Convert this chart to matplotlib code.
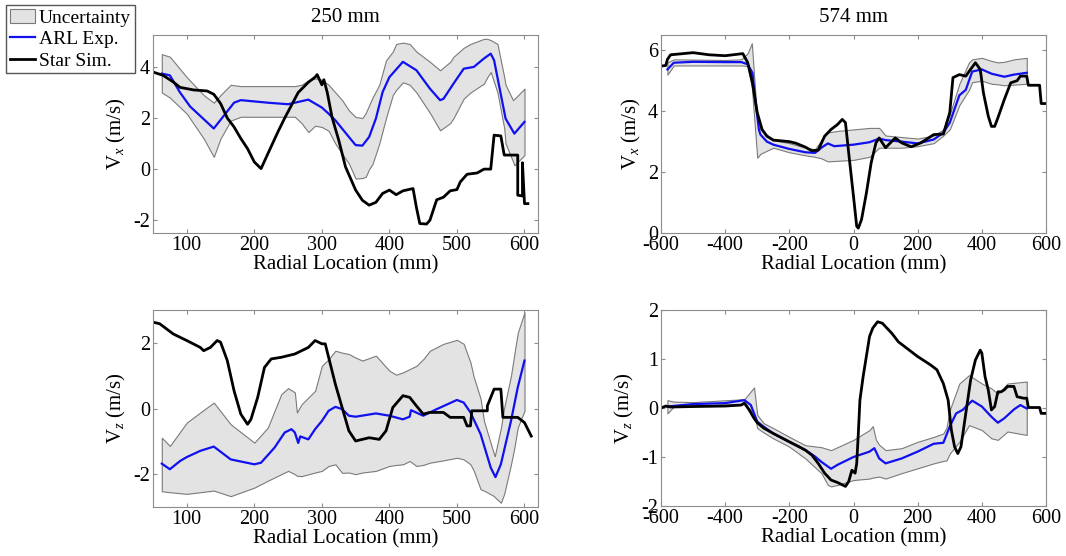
import numpy as np
import matplotlib
matplotlib.use("Agg")
import matplotlib.pyplot as plt
from matplotlib.patches import Patch
from matplotlib.lines import Line2D

plt.rcParams['font.family'] = ['Liberation Serif', 'DejaVu Serif']
plt.rcParams['mathtext.fontset'] = 'custom'
plt.rcParams['mathtext.rm'] = 'Liberation Serif'
plt.rcParams['mathtext.it'] = 'Liberation Serif:italic'
plt.rcParams['axes.unicode_minus'] = False
plt.rcParams['font.size'] = 14

# ---- 250 mm, Vx ----
vx250_exp_x = [63, 75, 90, 105, 140, 170, 180, 220, 250, 260, 280, 300, 310, 320, 340, 350, 360, 370, 380, 390, 400,
               420, 440, 460, 475, 480, 495, 510, 525, 540, 550, 555, 572, 585, 600]
vx250_exp_y = [3.74, 3.67, 3.0, 2.45, 1.59, 2.6, 2.7, 2.6, 2.54, 2.6, 2.72, 2.41, 2.17, 1.91, 1.26, 0.94, 0.92, 1.26,
               1.98, 3.02, 3.6, 4.2, 3.87, 3.15, 2.7, 2.75, 3.35, 3.93, 4.0, 4.33, 4.52, 4.26, 1.98, 1.39, 1.85]
vx250_band_x = [63, 75, 100, 125, 140, 150, 165, 180, 260, 270, 280, 290, 300, 310, 320, 330, 340, 350, 360, 365, 370,
                375, 385, 395, 405, 410, 420, 430, 440, 450, 460, 475, 490, 495, 510, 520, 540, 545, 550, 560, 570,
                572, 583, 585, 600]
vx250_band_lo = [3.0, 2.8, 2.17, 1.2, 0.48, 1.2, 1.9, 2.05, 2.05, 1.8, 1.45, 1.7, 1.65, 1.5, 1.0, 0.6, 0.22, -0.37,
                 -0.35, -0.3, 0.0, 0.2, 1.0, 2.0, 2.9, 3.1, 3.4, 3.3, 3.0, 2.6, 2.2, 1.52, 1.8, 2.0, 2.76, 3.0, 3.35,
                 3.6, 3.8, 3.0, 1.6, 1.0, 0.3, 0.15, 0.55]
vx250_band_hi = [4.5, 4.4, 3.6, 2.9, 2.6, 2.9, 3.3, 3.25, 3.25, 3.3, 3.48, 3.55, 3.5, 3.3, 3.0, 2.7, 2.3, 2.04, 2.0,
                 2.2, 2.5, 2.8, 3.3, 4.26, 4.6, 4.9, 4.95, 4.9, 4.6, 4.4, 4.2, 3.87, 4.2, 4.4, 4.75, 4.9, 5.1, 5.1,
                 5.05, 4.9, 3.6, 3.3, 2.7, 2.75, 3.15]
vx250_sim_x = [50, 65, 80, 90, 100, 110, 130, 140, 150, 160, 170, 180, 190, 200, 210, 220, 235, 245, 255, 265, 280,
               290, 293, 300, 303, 308, 315, 325, 335, 350, 360, 370, 380, 390, 400, 410, 420, 435, 440, 445, 455,
               460, 465, 470, 480, 490, 500, 505, 515, 530, 540, 550, 555, 565, 570, 590, 590, 597, 597, 600, 605]
vx250_sim_y = [3.8, 3.67, 3.41, 3.2, 3.15, 3.1, 3.06, 2.93, 2.57, 2.0, 1.65, 1.2, 0.8, 0.28, 0.02, 0.6, 1.46, 2.0,
               2.5, 3.0, 3.4, 3.6, 3.7, 3.3, 3.5, 3.0, 2.04, 1.13, 0.09, -0.82, -1.22, -1.41, -1.3, -0.95, -0.82,
               -1.0, -0.85, -0.76, -1.5, -2.13, -2.15, -2.0, -1.6, -1.2, -1.1, -0.85, -0.8, -0.5, -0.2, -0.15, 0.0,
               0.0, 1.33, 1.3, 0.55, 0.55, -1.02, -1.05, 0.25, -1.35, -1.35]

# ---- 574 mm, Vx ----
vx574_exp_x = [-580, -560, -500, -400, -350, -330, -315, -305, -295, -290, -270, -250, -200, -150, -120, -100, -80,
               -60, 0, 50, 80, 100, 150, 200, 250, 280, 300, 330, 350, 370, 400, 430, 470, 500, 540]
vx574_exp_y = [5.37, 5.59, 5.62, 5.61, 5.61, 5.54, 5.26, 4.28, 3.4, 3.23, 3.0, 2.9, 2.76, 2.65, 2.63, 2.8, 2.94,
               2.85, 2.9, 2.98, 3.1, 3.05, 3.0, 2.94, 3.07, 3.29, 3.62, 4.52, 4.7, 5.3, 5.37, 5.23, 5.13, 5.2, 5.26]
vx574_band_x = [-580, -560, -400, -350, -330, -317, -300, -290, -250, -200, -150, -120, -100, -80, -50, 0, 50, 80,
                100, 150, 200, 250, 280, 300, 330, 360, 370, 400, 430, 450, 470, 500, 540]
vx574_band_lo = [5.2, 5.5, 5.5, 5.5, 5.48, 4.8, 2.47, 2.6, 2.8, 2.65, 2.55, 2.5, 2.45, 2.35, 2.37, 2.4, 2.5, 2.8,
                 2.8, 2.8, 2.85, 2.95, 3.2, 3.4, 4.2, 4.7, 4.95, 5.0, 4.9, 4.88, 4.85, 4.87, 4.9]
vx574_band_hi = [5.6, 5.7, 5.68, 5.7, 5.9, 6.23, 3.7, 3.4, 3.05, 2.95, 2.8, 2.75, 3.05, 3.3, 3.35, 3.4, 3.45, 3.45,
                 3.2, 3.15, 3.1, 3.2, 3.4, 3.9, 4.9, 5.6, 5.7, 5.75, 5.65, 5.6, 5.62, 5.7, 5.75]
vx574_sim_x = [-600, -585, -580, -570, -500, -450, -400, -360, -345, -330, -315, -300, -285, -270, -250, -200, -180,
               -150, -130, -110, -90, -70, -50, -35, -25, -15, 0, 10, 15, 25, 40, 55, 70, 80, 100, 115, 130, 150,
               180, 210, 250, 280, 300, 310, 330, 350, 360, 380, 395, 405, 420, 430, 440, 450, 470, 490, 510, 520,
               540, 545, 580, 585, 600]
vx574_sim_y = [5.48, 5.5, 5.7, 5.85, 5.92, 5.85, 5.82, 5.87, 5.89, 5.6, 4.93, 3.95, 3.4, 3.18, 3.05, 3.0, 2.95,
               2.82, 2.7, 2.72, 3.18, 3.4, 3.56, 3.73, 3.62, 2.63, 1.2, 0.22, 0.16, 0.44, 1.3, 2.3, 2.96, 3.12, 2.8,
               2.96, 3.12, 2.96, 2.83, 2.96, 3.23, 3.25, 3.95, 5.1, 5.2, 5.15, 5.3, 5.59, 5.37, 4.6, 3.84, 3.5, 3.5,
               3.78, 4.38, 4.93, 5.0, 5.15, 5.15, 4.85, 4.85, 4.25, 4.25]

# ---- 250 mm, Vz ----
vz250_exp_x = [63, 75, 90, 100, 120, 140, 165, 200, 210, 230, 245, 255, 260, 265, 268, 280, 290, 300, 310, 320,
               330, 340, 350, 380, 400, 420, 430, 432, 450, 470, 500, 510, 520, 535, 550, 557, 565, 580, 590, 600]
vz250_exp_y = [-1.68, -1.85, -1.6, -1.48, -1.29, -1.16, -1.55, -1.7, -1.65, -1.19, -0.73, -0.63, -0.73, -1.05,
               -0.85, -0.94, -0.63, -0.38, -0.07, 0.05, -0.02, -0.22, -0.25, -0.15, -0.22, -0.33, -0.25, -0.05,
               -0.22, -0.02, 0.26, 0.18, -0.12, -0.78, -1.8, -2.09, -1.7, -0.38, 0.64, 1.46]
vz250_band_x = [63, 75, 100, 120, 140, 165, 200, 220, 240, 250, 260, 263, 270, 290, 300, 310, 320, 330, 340, 350,
                360, 380, 400, 410, 420, 430, 440, 450, 460, 480, 500, 510, 520, 525, 535, 540, 555, 556, 565, 570,
                580, 585, 590, 600]
vz250_band_lo = [-2.52, -2.55, -2.6, -2.55, -2.5, -2.67, -2.41, -2.2, -2.0, -1.9, -2.0, -2.05, -2.06, -1.95, -1.9,
                 -1.75, -1.7, -1.96, -1.95, -2.0, -1.95, -1.9, -1.75, -1.72, -1.7, -1.6, -1.75, -1.72, -1.65, -1.58,
                 -1.5, -1.55, -1.7, -1.9, -2.46, -2.5, -2.67, -2.7, -2.87, -2.6, -1.7, -1.2, -0.58, -0.07]
vz250_band_hi = [-0.89, -1.14, -0.43, -0.12, 0.18, -0.48, -1.04, -0.58, 0.44, 0.62, 0.49, -0.12, 0.13, 0.54, 1.3,
                 1.5, 1.76, 1.7, 1.66, 1.55, 1.46, 1.61, 1.15, 1.03, 1.1, 1.2, 1.3, 1.5, 1.76, 1.97, 2.09, 1.97, 1.4,
                 0.95, 0.3, -0.38, -1.4, -1.45, -0.6, 0.03, 1.0, 1.66, 2.3, 2.93]
vz250_sim_x = [50, 60, 80, 100, 120, 125, 135, 145, 150, 160, 170, 180, 190, 195, 205, 215, 225, 240, 260, 280,
               290, 300, 305, 310, 320, 330, 340, 350, 370, 385, 395, 405, 420, 430, 440, 450, 460, 480, 490, 510,
               515, 520, 522, 545, 545, 555, 565, 568, 590, 600, 610]
vz250_sim_y = [2.63, 2.58, 2.27, 2.07, 1.86, 1.76, 1.86, 2.07, 2.02, 1.46, 0.54, -0.17, -0.48, -0.33, 0.34, 1.25,
               1.51, 1.56, 1.66, 1.86, 2.07, 1.97, 1.97, 1.56, 0.74, 0.03, -0.68, -0.99, -0.89, -0.94, -0.68, 0.03,
               0.39, 0.34, 0.08, -0.17, -0.12, -0.12, -0.27, -0.27, -0.53, -0.53, -0.07, -0.07, 0.08, 0.59, 0.59,
               -0.27, -0.27, -0.43, -0.84]

# ---- 574 mm, Vz ----
vz574_exp_x = [-580, -500, -400, -340, -320, -300, -280, -250, -200, -150, -120, -100, -70, -50, 0, 50, 65, 80, 100,
               150, 200, 250, 280, 300, 320, 340, 370, 400, 430, 450, 470, 500, 520, 540]
vz574_exp_y = [0.03, 0.08, 0.1, 0.16, 0.06, -0.28, -0.38, -0.52, -0.69, -0.86, -0.99, -1.1, -1.24, -1.16, -1.0,
               -0.89, -0.82, -1.03, -1.13, -1.03, -0.89, -0.73, -0.71, -0.38, -0.11, -0.04, 0.15, 0.03, -0.18, -0.3,
               -0.21, -0.03, 0.06, -0.01]
vz574_band_x = [-580, -560, -500, -340, -310, -300, -280, -250, -200, -150, -100, -80, -70, -50, 0, 50, 60, 70, 80,
                100, 150, 200, 250, 280, 290, 300, 330, 360, 400, 430, 450, 480, 540]
vz574_band_lo = [-0.11, 0.03, 0.05, 0.08, -0.11, -0.41, -0.5, -0.62, -0.79, -1.03, -1.33, -1.57, -1.6, -1.57, -1.47,
                 -1.44, -1.42, -1.41, -1.4, -1.44, -1.33, -1.23, -1.13, -1.08, -1.07, -0.93, -0.69, -0.35, -0.45,
                 -0.62, -0.65, -0.48, -0.55]
vz574_band_hi = [0.16, 0.13, 0.12, 0.18, 0.42, -0.14, -0.31, -0.41, -0.59, -0.76, -0.8, -0.84, -0.86, -0.8, -0.65,
                 -0.45, -0.37, -0.65, -0.75, -0.86, -0.82, -0.69, -0.59, -0.52, -0.4, -0.04, 0.5, 0.67, 0.5, 0.4,
                 0.29, 0.5, 0.54]
vz574_sim_x = [-600, -585, -570, -500, -400, -350, -340, -325, -310, -300, -280, -250, -200, -170, -150, -130, -110,
               -90, -70, -50, -25, -15, -5, 5, 10, 15, 20, 30, 40, 50, 60, 75, 90, 100, 120, 140, 160, 200, 240, 260,
               280, 295, 305, 315, 325, 335, 350, 365, 380, 395, 400, 410, 420, 430, 440, 450, 460, 470, 480, 500,
               510, 530, 540, 545, 580, 585, 600]
vz574_sim_y = [0.0, 0.04, 0.02, 0.03, 0.04, 0.06, 0.1, -0.04, -0.21, -0.3, -0.41, -0.52, -0.69, -0.79, -0.86, -0.96,
               -1.13, -1.33, -1.47, -1.52, -1.6, -1.5, -1.27, -1.33, -1.13, -0.52, 0.16, 0.64, 1.05, 1.46, 1.63,
               1.76, 1.73, 1.66, 1.52, 1.35, 1.25, 1.05, 0.88, 0.78, 0.5, 0.16, -0.45, -0.79, -0.93, -0.79, -0.11,
               0.57, 0.98, 1.18, 1.12, 0.64, 0.37, -0.04, 0.03, 0.33, 0.33, 0.37, 0.44, 0.44, 0.23, 0.2, 0.2, 0.01,
               0.01, -0.11, -0.11]

W, H = 1066, 556
fig = plt.figure(figsize=(W / 100, H / 100), dpi=100)

panels = [
    # left, top, right, bottom (pixels)
    ((153, 35, 538, 233), vx250_band_x, vx250_band_lo, vx250_band_hi, vx250_exp_x, vx250_exp_y, vx250_sim_x,
     vx250_sim_y, (50, 620), (-2.5, 5.25), [100, 200, 300, 400, 500, 600], [-2, 0, 2, 4], 'x', '250 mm'),
    ((661, 35, 1046, 233), vx574_band_x, vx574_band_lo, vx574_band_hi, vx574_exp_x, vx574_exp_y, vx574_sim_x,
     vx574_sim_y, (-600, 600), (0, 6.5), [-600, -400, -200, 0, 200, 400, 600], [0, 2, 4, 6], 'x', '574 mm'),
    ((153, 310, 538, 507), vz250_band_x, vz250_band_lo, vz250_band_hi, vz250_exp_x, vz250_exp_y, vz250_sim_x,
     vz250_sim_y, (50, 620), (-3, 3), [100, 200, 300, 400, 500, 600], [-2, 0, 2], 'z', None),
    ((661, 310, 1046, 506), vz574_band_x, vz574_band_lo, vz574_band_hi, vz574_exp_x, vz574_exp_y, vz574_sim_x,
     vz574_sim_y, (-600, 600), (-2, 2), [-600, -400, -200, 0, 200, 400, 600], [-2, -1, 0, 1, 2], 'z', None),
]

frame = '#8c8c8c'
for (l, t, r, b), bx, blo, bhi, ex, ey, sx, sy, xl, yl, xt, yt, comp, title in panels:
    ax = fig.add_axes([l / W, 1 - b / H, (r - l) / W, (b - t) / H])
    ax.fill_between(bx, blo, bhi, facecolor='#e3e3e3', edgecolor='#7a7a7a', linewidth=0.8)
    ax.plot(ex, ey, color='#1010f0', linewidth=1.6)
    ax.plot(sx, sy, color='black', linewidth=2.0)
    ax.set_xlim(*xl)
    ax.set_ylim(*yl)
    ax.set_xticks(xt)
    ax.set_yticks(yt)
    ax.tick_params(direction='in', length=3, color=frame, top=True, right=True, labelsize=14.5, pad=2)
    for s in ax.spines.values():
        s.set_color(frame)
    ax.set_xlabel('Radial Location (mm)', fontsize=15, labelpad=0)
    ax.set_ylabel(r'V$_' + comp + r'$ (m/s)', fontsize=15, labelpad=4)
    if title:
        ax.set_title(title, fontsize=15, pad=9)

handles = [Patch(facecolor='#e3e3e3', edgecolor='#7a7a7a', linewidth=0.8),
           Line2D([], [], color='#1010f0', linewidth=1.6),
           Line2D([], [], color='black', linewidth=2.0)]
fig.legend(handles, ['Uncertainty', 'ARL Exp.', 'Star Sim.'], loc='upper left', bbox_to_anchor=(0.002, 0.998),
           fontsize=14, frameon=True, fancybox=False, edgecolor='#555555', framealpha=1,
           handlelength=1.3, handletextpad=0.2, borderpad=0.2, labelspacing=0.2, borderaxespad=0.2)

fig.savefig('out.png', dpi=100)
